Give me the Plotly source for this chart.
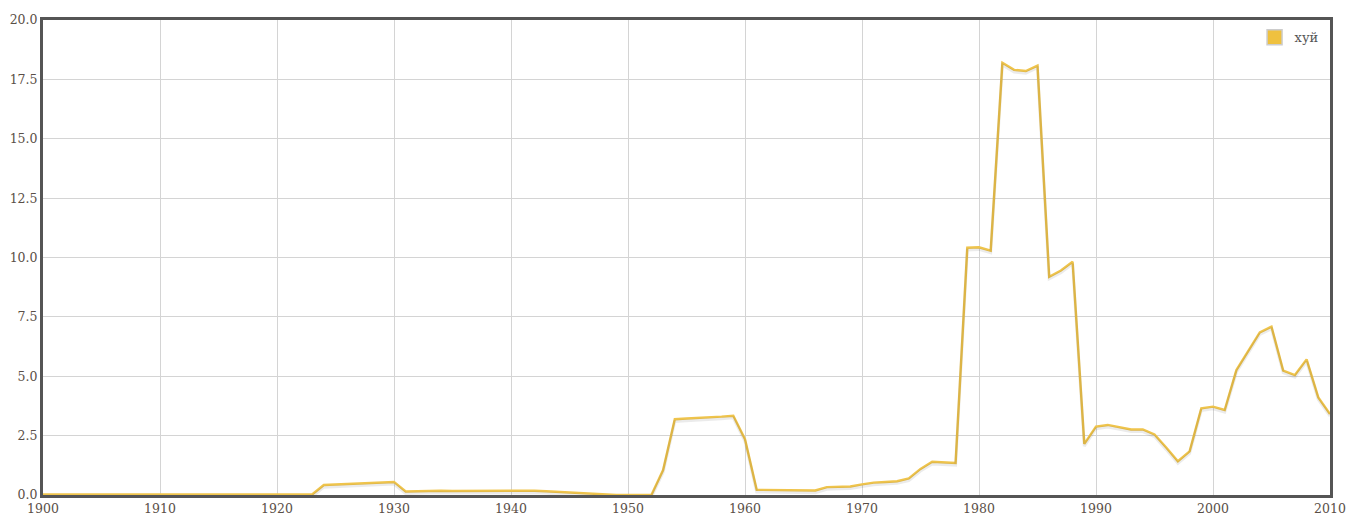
import plotly.graph_objects as go

years = list(range(1900, 2011))
values = (
    [0.02] * 23 +                      # 1900-1922
    [0.02, 0.42, 0.44, 0.45, 0.47, 0.50, 0.52, 0.55] +  # 1923-1930
    [0.15, 0.17, 0.18, 0.18, 0.17, 0.17, 0.17, 0.18, 0.19, 0.20,  # 1931-1940
     0.20, 0.18, 0.16, 0.13, 0.10, 0.07, 0.03, 0.0, 0.0, 0.0,     # 1941-1950
     0.0, 0.0, 1.05, 3.19, 3.22, 3.24, 3.26, 3.30, 3.34, 2.35,    # 1951-1960
     0.22, 0.21, 0.21, 0.21, 0.20, 0.19, 0.33, 0.33, 0.36, 0.45,  # 1961-1970
     0.52, 0.55, 0.58, 0.70, 1.10, 1.40, 1.38, 1.35, 10.41, 10.43,  # 1971-1980
     10.29, 18.20, 17.90, 17.85, 18.08, 9.19, 9.45, 9.82, 2.15, 2.88,  # 1981-1990
     2.95, 2.84, 2.76, 2.76, 2.55, 2.0, 1.42, 1.84, 3.65, 3.72,   # 1991-2000
     3.58, 5.26, 6.03, 6.85, 7.09, 5.24, 5.05, 5.71, 4.11, 3.41]  # 2001-2010
)
series_name = "хуй"
x_ticks = list(range(1900, 2011, 10))
y_ticks = [0, 2.5, 5, 7.5, 10, 12.5, 15, 17.5, 20]

line_color = "#efc44c"
font_family = "DejaVu Serif"

fig = go.Figure()
# soft shadow under the line
fig.add_trace(go.Scatter(x=years, y=values, mode="lines", xaxis="x", yaxis="y2",
                         line=dict(color="rgba(0,0,0,0.08)", width=3),
                         showlegend=False, hoverinfo="skip"))
fig.add_trace(go.Scatter(x=years, y=values, mode="lines", name=series_name,
                         line=dict(color=line_color, width=2.4), showlegend=False))
# legend entry with square swatch
fig.add_trace(go.Scatter(x=[None], y=[None], mode="markers", name=series_name,
                         marker=dict(symbol="square", size=15, color="#efc13f",
                                     line=dict(color="#cccccc", width=1.5))))

fig.update_layout(
    width=1347, height=528,
    margin=dict(l=43, r=17, t=20, b=33),
    paper_bgcolor="white", plot_bgcolor="white",
    font=dict(family=font_family, size=12, color="#555555"),
    xaxis=dict(range=[1900, 2010], tickvals=x_ticks, ticktext=[str(t) for t in x_ticks],
               showgrid=True, gridcolor="#d4d4d4", gridwidth=1, automargin=False,
               showline=True, linecolor="#555555", linewidth=3, mirror=True,
               zeroline=False, ticks="", tickfont=dict(size=12.5, color="#5a4f47")),
    yaxis=dict(range=[0, 20], tickvals=y_ticks, ticktext=[f"{v:.1f}" for v in y_ticks],
               showgrid=True, gridcolor="#d4d4d4", gridwidth=1, automargin=False,
               showline=True, linecolor="#555555", linewidth=3, mirror=True,
               zeroline=False, ticks="", tickfont=dict(size=12.5, color="#5a4f47")),
    yaxis2=dict(range=[0.09, 20.09], overlaying="y", visible=False, automargin=False),
    legend=dict(x=0.995, y=0.995, xanchor="right", yanchor="top",
                bgcolor="rgba(0,0,0,0)", font=dict(size=13, color="#555555"),
                itemwidth=30),
    showlegend=True,
)

fig.write_html("out.html", config={"displayModeBar": False},
               post_script="document.body.style.margin='0';document.body.style.overflow='hidden';")
